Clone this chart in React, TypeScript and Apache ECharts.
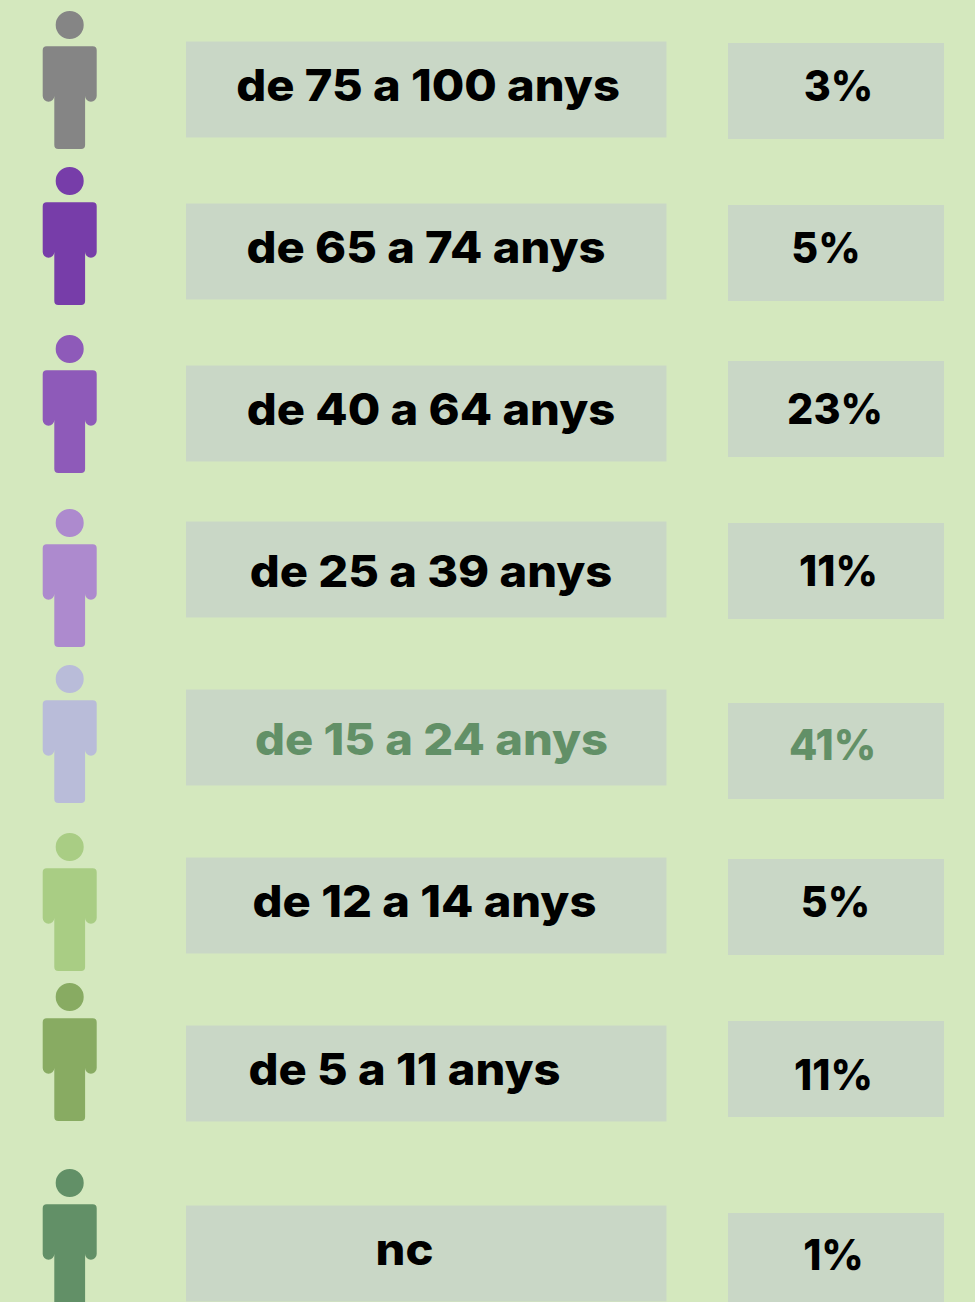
import React, { useEffect, useRef } from "react";
import * as echarts from "echarts";

// Data
const ageLabels = ["de 75 a 100 anys", "de 65 a 74 anys", "de 40 a 64 anys", "de 25 a 39 anys", "de 15 a 24 anys", "de 12 a 14 anys", "de 5 a 11 anys", "nc"];
const percentages = [3, 5, 23, 11, 41, 5, 11, 1];
const personColors = ["#858585", "#773da9", "#8e5ab9", "#ad8ace", "#b9bcd9", "#a9cd84", "#88ab62", "#629067"];
const labelColors = ["#000000", "#000000", "#000000", "#000000", "#629067", "#000000", "#000000", "#000000"];

// Layout (page coordinates of the original poster)
const WIDTH = 975;
const HEIGHT = 1302;
const personCenterX = 69.7;
const personTop = [11, 167, 335, 509, 665, 833, 983, 1169];
const PERSON_W = 54;
const PERSON_H = 138;
const labelBoxX = [186, 666.5];
const valueBoxX = [728, 944];
const BOX_H = 96;
const labelBoxTop = [41.5, 203.5, 365.5, 521.5, 689.5, 857.5, 1025.5, 1205.5];
const valueBoxTop = [43, 205, 361, 523, 703, 859, 1021, 1213];
const labelTextX = [428, 426, 431, 431, 431.5, 424.5, 404.5, 404.5];
const labelTextY = [85, 247, 409, 571, 739, 901, 1069, 1249];
const valueTextX = [838.5, 826, 835, 838.5, 832.5, 835.5, 833.5, 833.5];
const valueTextY = [85.3, 247.3, 408.3, 570.3, 744.3, 901.3, 1074.3, 1254.3];

const FONT = "Inter";
const LABEL_SIZE = 44;
const VALUE_SIZE = 43;
const LABEL_STRETCH = 1.07;
const VALUE_STRETCH = 0.96;
const BG = "#d4e8be";
const BOX = "#c9d7c6";

const personPath =
  "path://M27 0A14 14 0 1 1 27 28A14 14 0 1 1 27 0Z" +
  "M4 35.3H50Q54 35.3 54 39.3V85A5.8 5.8 0 0 1 42.4 85V134Q42.4 138 38.4 138H15.6Q11.6 138 11.6 134V85A5.8 5.8 0 0 1 0 85V39.3Q0 35.3 4 35.3Z";

export default function App() {
  const ref = useRef<HTMLDivElement>(null);

  useEffect(() => {
    document.body.style.margin = "0";
    document.body.style.overflow = "hidden";
    const chart = echarts.init(ref.current!, null, { renderer: "svg" });

    const box = (api: any, x0: number, x1: number, top: number) => {
      const a = api.coord([x0, top]);
      const b = api.coord([x1, top + BOX_H]);
      return {
        type: "rect",
        shape: { x: a[0], y: a[1], width: b[0] - a[0], height: b[1] - a[1] },
        style: { fill: BOX },
      };
    };
    const label = (api: any, text: string, x: number, y: number, fill: string, size: number, stretch: number) => {
      const p = api.coord([x, y]);
      return {
        type: "text",
        x: p[0],
        y: p[1],
        scaleX: stretch,
        style: {
          text,
          x: 0,
          y: 0,
          fill,
          fontFamily: FONT,
          fontWeight: 800,
          fontSize: size,
          align: "center",
          verticalAlign: "middle",
        },
      };
    };

    chart.setOption({
      animation: false,
      backgroundColor: BG,
      grid: { left: 0, right: 0, top: 0, bottom: 0 },
      xAxis: { type: "value", min: 0, max: WIDTH, show: false },
      yAxis: { type: "value", min: 0, max: HEIGHT, inverse: true, show: false },
      series: [
        {
          type: "scatter",
          symbol: personPath,
          symbolSize: [PERSON_W, PERSON_H],
          clip: false,
          silent: true,
          data: ageLabels.map((name, i) => ({
            name,
            value: [personCenterX, personTop[i] + PERSON_H / 2],
            itemStyle: { color: personColors[i], opacity: 1 },
          })),
        },
        {
          type: "custom",
          coordinateSystem: "cartesian2d",
          silent: true,
          clip: false,
          encode: { x: 0, y: 1 },
          data: ageLabels.map((_, i) => [labelTextX[i], labelTextY[i]]),
          renderItem: (params: any, api: any) => {
            const i = params.dataIndex;
            return {
              type: "group",
              children: [
                box(api, labelBoxX[0], labelBoxX[1], labelBoxTop[i]),
                box(api, valueBoxX[0], valueBoxX[1], valueBoxTop[i]),
                label(api, ageLabels[i], labelTextX[i], labelTextY[i], labelColors[i], LABEL_SIZE, LABEL_STRETCH),
                label(api, `${percentages[i]}%`, valueTextX[i], valueTextY[i], labelColors[i], VALUE_SIZE, VALUE_STRETCH),
              ],
            };
          },
        },
      ],
    });
    return () => chart.dispose();
  }, []);

  return <div ref={ref} style={{ width: WIDTH, height: HEIGHT }} />;
}
